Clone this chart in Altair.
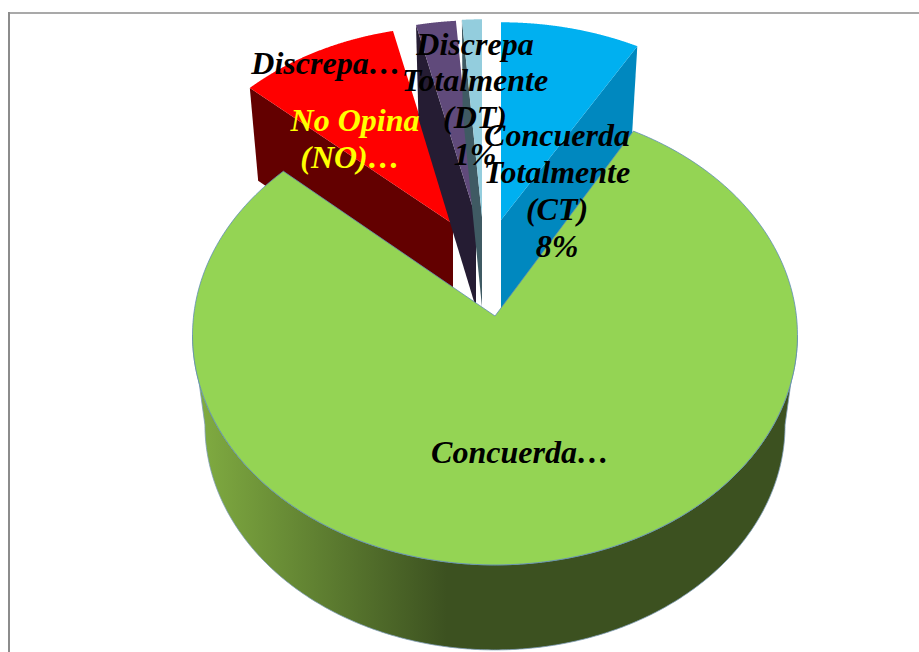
import numpy as np
import pandas as pd
import altair as alt

# Survey answers, clockwise from twelve o'clock
categories = ["Concuerda Totalmente (CT)", "Concuerda", "No Opina (NO)", "Discrepa", "Discrepa Totalmente (DT)"]
shares = [8.2, 78.5, 9.7, 2.4, 1.2]

top_colors = ["#00B0F0", "#94D454", "#FF0000", "#604A7B", "#93CDDD"]
wall_colors = ["#0088BF", "#3C5120", "#630000", "#251C33", "#3F5A63"]

# Data labels, one row per text line
label_lines = ["Discrepa…", "No Opina", "(NO)…", "Discrepa", "Totalmente", "(DT)", "1%",
               "Concuerda", "Totalmente", "(CT)", "8%", "Concuerda…"]
label_x = [326, 355, 350, 475, 475, 475, 475, 557, 557, 557, 557, 520]
label_y = [74, 131, 168, 55, 91, 128, 165, 146, 183, 220, 257, 463]
label_colors = ["black", "#FFFF00", "#FFFF00", "black", "black", "black", "black",
                "black", "black", "black", "black", "black"]

# Perspective pie: half-axes and foreshortening of the unit circle on screen
AXIS_X, AXIS_Y, PERSPECTIVE = 301.4, 228.0, 0.084
FLOOR_X, FLOOR_Y = 0.959, 0.98   # floor of the cylinder is smaller than its lid
DEPTH = 90

# Where each exploded slice has its tip, and its size relative to the central one
tips = [(501, 220), (495, 316), (453, 224), (476, 218), (482, 217)]
scales = [(0.985, 0.94), (1.0, 1.0), (0.96, 0.94), (0.96, 0.94), (0.96, 0.94)]
# Which radial edge of each slice shows a wall: 1 = trailing, 0 = leading
wall_edge = [1, None, 0, 0, 0]


def project(theta, tip, scale, floor=False):
    """Screen position of a rim point at angle theta (clockwise from the top)."""
    w = 1 + PERSPECTIVE * np.cos(theta)
    fx, fy = (FLOOR_X, FLOOR_Y) if floor else (1.0, 1.0)
    x = tip[0] + fx * scale[0] * AXIS_X * np.sin(theta) / w
    y = tip[1] + (DEPTH if floor else 0) - fy * scale[1] * AXIS_Y * np.cos(theta) / w
    return x, y


def polygon(points):
    return pd.DataFrame({"x": [p[0] for p in points], "y": [p[1] for p in points],
                         "i": range(len(points))})


x_scale = alt.Scale(domain=[0, 919], range=[0, 919])
y_scale = alt.Scale(domain=[0, 652], range=[0, 652])
x_enc = alt.X("x:Q", scale=x_scale, axis=None)
y_enc = alt.Y("y:Q", scale=y_scale, axis=None)


def shape(points, fill, stroke=None):
    line_style = {"stroke": stroke, "strokeWidth": 0.8} if stroke else {"strokeWidth": 0}
    return alt.Chart(polygon(points)).mark_line(
        fill=fill, interpolate="linear-closed", **line_style
    ).encode(x=x_enc, y=y_enc, order="i:Q")


edges = 2 * np.pi * np.cumsum([0] + shares) / sum(shares)
bounds = list(zip(edges[:-1], edges[1:]))

layers = []

# Chart frame: left and top borders
left_border = pd.DataFrame({"x": [9], "y": [12], "y2": [652]})
top_border = pd.DataFrame({"x": [8], "x2": [919], "y": [13]})
layers.append(alt.Chart(left_border).mark_rule(color="#8C8C8C", strokeWidth=2).encode(
    x=x_enc, y=y_enc, y2="y2:Q"))
layers.append(alt.Chart(top_border).mark_rule(color="#8C8C8C", strokeWidth=1.5).encode(
    x=x_enc, x2="x2:Q", y=y_enc))


def top_face(i):
    a, b = bounds[i]
    arc = [project(t, tips[i], scales[i]) for t in np.linspace(a, b, 240)]
    return [tips[i]] + arc


def radial_wall(i):
    angle = bounds[i][wall_edge[i]]
    rim_lid = project(angle, tips[i], scales[i])
    rim_floor = project(angle, tips[i], scales[i], floor=True)
    return [rim_lid, tips[i], (tips[i][0], tips[i][1] + DEPTH), rim_floor]


# Back slices first, the large slice goes over them
for i in [2, 3, 4, 0]:
    layers.append(shape(radial_wall(i), wall_colors[i]))
    layers.append(shape(top_face(i), top_colors[i]))

# Curved wall of the large slice, lit on its left flank
side_gradient = alt.LinearGradient(
    gradient="linear", x1=0, x2=1, y1=0, y2=0,
    stops=[
        alt.GradientStop(offset=0.0, color="#82AE42"),
        alt.GradientStop(offset=0.42, color=wall_colors[1]),
        alt.GradientStop(offset=1.0, color=wall_colors[1]),
    ],
)
turn = np.arccos(-PERSPECTIVE)
sweep = np.linspace(turn, 2 * np.pi - turn, 360)
lid_rim = [project(t, tips[1], scales[1]) for t in sweep]
floor_rim = [project(t, tips[1], scales[1], floor=True) for t in sweep[::-1]]
layers.append(shape(lid_rim + floor_rim, side_gradient, stroke="#7F9DB9"))
layers.append(shape(top_face(1), top_colors[1], stroke="#5F8DB5"))

# Data labels
labels = pd.DataFrame({"x": label_x, "y": label_y, "text": label_lines, "c": label_colors})
layers.append(alt.Chart(labels).mark_text(
    font="Liberation Serif", fontSize=32, fontStyle="italic", fontWeight="bold",
    align="center", baseline="alphabetic",
).encode(
    x=x_enc, y=y_enc,
    text="text:N",
    color=alt.Color("c:N", scale=None),
))

chart = alt.layer(*layers).properties(
    width=919, height=652, padding=0,
    autosize=alt.AutoSizeParams(type="none"),
    background="white",
).configure_view(stroke=None)

chart.save("out.html", embed_options={"renderer": "svg", "actions": False})
